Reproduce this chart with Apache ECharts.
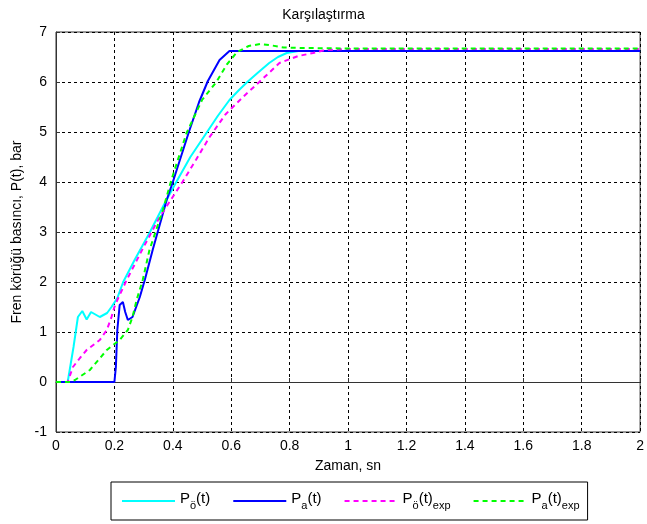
<!DOCTYPE html>
<html>
<head>
<meta charset="utf-8">
<script src="https://cdn.jsdelivr.net/npm/echarts@6/dist/echarts.min.js"></script>
<style>
	html, body { margin: 0; padding: 0; background: #fff; }
	#chart { width: 647px; height: 524px; }
</style>
</head>
<body>
<div id="chart"></div>
<script>
// okunan veriler (zaman, sn / basınç, bar)
var po_t = [0, 0.04, 0.06, 0.075, 0.09, 0.105, 0.12, 0.15, 0.175, 0.19, 0.21, 0.23, 0.27, 0.32, 0.37, 0.41, 0.46, 0.515, 0.555, 0.594, 0.625, 0.655, 0.69, 0.73, 0.76, 0.79, 0.83, 2];
var po_y = [0, 0, 0.7, 1.3, 1.42, 1.25, 1.4, 1.3, 1.38, 1.5, 1.68, 2.0, 2.45, 2.98, 3.55, 3.98, 4.5, 4.98, 5.33, 5.64, 5.83, 6.0, 6.18, 6.38, 6.5, 6.58, 6.62, 6.62];

var pa_t = [0, 0.2, 0.205, 0.21, 0.218, 0.229, 0.237, 0.246, 0.262, 0.287, 0.304, 0.331, 0.379, 0.40, 0.455, 0.49, 0.52, 0.56, 0.594, 2];
var pa_y = [0, 0, 0.3, 1.04, 1.54, 1.6, 1.4, 1.24, 1.3, 1.7, 2.04, 2.64, 3.64, 4.0, 5.0, 5.6, 6.02, 6.44, 6.62, 6.62];

var poexp_t = [0, 0.04, 0.058, 0.082, 0.105, 0.15, 0.174, 0.19, 0.2, 0.21, 0.242, 0.3, 0.355, 0.433, 0.48, 0.526, 0.58, 0.64, 0.696, 0.765, 0.83, 0.88, 0.92, 1.0, 2];
var poexp_y = [0, 0, 0.3, 0.48, 0.64, 0.84, 1.04, 1.3, 1.5, 1.64, 2.04, 2.7, 3.3, 4.0, 4.45, 4.9, 5.35, 5.7, 6.0, 6.38, 6.52, 6.58, 6.64, 6.66, 6.66];

var paexp_t = [0, 0.05, 0.065, 0.116, 0.174, 0.218, 0.246, 0.262, 0.276, 0.297, 0.32, 0.366, 0.395, 0.447, 0.5, 0.549, 0.585, 0.62, 0.66, 0.7, 0.74, 0.78, 0.85, 1.0, 2];
var paexp_y = [0, 0, 0.04, 0.24, 0.64, 0.84, 1.04, 1.3, 1.64, 2.04, 2.64, 3.44, 4.04, 4.98, 5.64, 6.0, 6.35, 6.6, 6.72, 6.76, 6.73, 6.69, 6.68, 6.67, 6.67];

var seri_adlari = ['Po', 'Pa', 'Poexp', 'Paexp'];

function pairs(t, y) {
	var out = [];
	for(var i = 0; i < t.length; i++) {
		out.push([t[i], y[i]]);
	}
	return out;
}

var myChart = echarts.init(document.getElementById('chart'));

var font = 'Liberation Sans, Arial, sans-serif';

var option = {
	animation: false,
	backgroundColor: '#fff',
	textStyle: { fontFamily: font },
	title: {
		text: 'Karşılaştırma',
		left: 'center',
		top: 3,
		textStyle: { fontSize: 14, fontWeight: 'normal', color: '#000', fontFamily: font }
	},
	grid: {
		left: 56,
		right: 5,
		top: 32,
		bottom: 92,
		show: true,
		borderColor: '#333',
		borderWidth: 1
	},
	legend: {
		data: seri_adlari,
		left: 111,
		top: 482,
		padding: [9, 8, 9, 10],
		itemGap: 22,
		itemWidth: 53,
		itemHeight: 14,
		borderColor: '#000',
		borderWidth: 1,
		backgroundColor: '#fff',
		// legend ikonunda sadece çizgi kalsın
		itemStyle: { opacity: 0 },
		formatter: function(name) {
			if(name == 'Po') return '{b|P}{s|ö}{b|(t)}';
			if(name == 'Pa') return '{b|P}{s|a}{b|(t)}';
			if(name == 'Poexp') return '{b|P}{s|ö}{b|(t)}{s|exp}';
			return '{b|P}{s|a}{b|(t)}{s|exp}';
		},
		textStyle: {
			rich: {
				b: { fontSize: 15, color: '#000', lineHeight: 20, verticalAlign: 'top', fontFamily: font },
				s: { fontSize: 11, color: '#000', lineHeight: 20, verticalAlign: 'bottom', fontFamily: font }
			}
		}
	},
	xAxis: {
		type: 'value',
		min: 0,
		max: 2,
		interval: 0.2,
		name: 'Zaman, sn',
		nameLocation: 'middle',
		nameGap: 27,
		nameTextStyle: { fontSize: 14, color: '#000', fontFamily: font },
		axisLine: { lineStyle: { color: '#333' } },
		axisTick: { inside: true, length: 4, lineStyle: { color: '#333' } },
		axisLabel: { fontSize: 14, color: '#000', margin: 7, fontFamily: font },
		splitLine: { show: true, lineStyle: { color: '#000', type: [3, 3], width: 1 } }
	},
	yAxis: {
		type: 'value',
		min: -1,
		max: 7,
		interval: 1,
		name: 'Fren körüğü basıncı, P(t), bar',
		nameLocation: 'middle',
		nameGap: 31,
		nameTextStyle: { fontSize: 14, color: '#000', fontFamily: font },
		axisLine: { lineStyle: { color: '#333' } },
		axisTick: { inside: true, length: 4, lineStyle: { color: '#333' } },
		axisLabel: { fontSize: 14, color: '#000', margin: 9, fontFamily: font },
		splitLine: { show: true, lineStyle: { color: '#000', type: [3, 3], width: 1 } }
	},
	series: [{
		name: 'Po',
		type: 'line',
		symbol: 'none',
		data: pairs(po_t, po_y),
		itemStyle: { color: '#00ffff' },
		lineStyle: { color: '#00ffff', width: 2 },
		z: 2
	}, {
		name: 'Pa',
		type: 'line',
		symbol: 'none',
		data: pairs(pa_t, pa_y),
		itemStyle: { color: '#0000ff' },
		lineStyle: { color: '#0000ff', width: 2 },
		z: 3
	}, {
		name: 'Poexp',
		type: 'line',
		symbol: 'none',
		data: pairs(poexp_t, poexp_y),
		itemStyle: { color: '#ff00ff' },
		lineStyle: { color: '#ff00ff', width: 2, type: [5, 4] },
		z: 4
	}, {
		name: 'Paexp',
		type: 'line',
		symbol: 'none',
		data: pairs(paexp_t, paexp_y),
		itemStyle: { color: '#00ff00' },
		lineStyle: { color: '#00ff00', width: 2, type: [5, 4] },
		z: 5
	}]
};

myChart.setOption(option);
</script>
</body>
</html>
